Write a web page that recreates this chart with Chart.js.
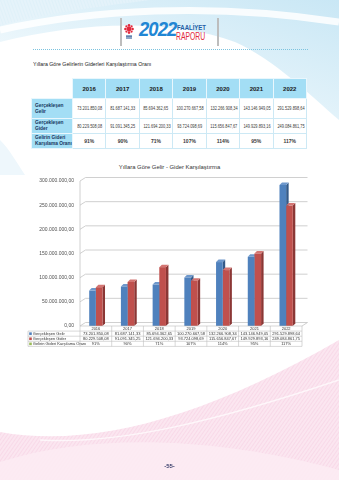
<!DOCTYPE html>
<html><head><meta charset="utf-8">
<script src="https://cdn.jsdelivr.net/npm/chart.js@4"></script>
<style>
html,body{margin:0;padding:0;width:339px;height:480px;overflow:hidden;background:#fff;font-family:'Liberation Sans',Arial,sans-serif;}
#page{position:relative;width:339px;height:480px;overflow:hidden;}
.abs{position:absolute;}
#tbl{position:absolute;left:31px;top:78px;width:276px;border-collapse:collapse;table-layout:fixed;}
#tbl th,#tbl td{padding:0;margin:0;overflow:hidden;white-space:nowrap;}
#tbl th{background:#a3def5;color:#1a1a1a;font-weight:bold;font-size:6px;border:1px solid #e9f7fd;height:19px;text-align:center;}
#tbl th.empty{background:transparent;border:none;}
#tbl td{border:1px solid #cde9f5;text-align:center;font-size:4.9px;color:#3a3a3a;background:#fff;}
#tbl td span{display:inline-block;transform:scaleX(0.8);transform-origin:50% 50%;}
#tbl td.lab{background:#a3def5;color:#17365d;font-weight:bold;font-size:4.8px;text-align:left;padding-left:3px;border:1px solid #e9f7fd;line-height:6px;white-space:normal;}
#tbl tr.r1 td{height:19px;}
#tbl tr.r2 td{height:14px;}
#tbl tr.r3 td{height:14px;}
</style></head><body>
<div id="page">
<svg class="abs" style="left:0;top:0" width="339" height="480">
  <defs>
    <linearGradient id="gb" x1="1" y1="0" x2="0" y2="1">
      <stop offset="0" stop-color="#c9e7f5"/>
      <stop offset="0.6" stop-color="#e8f5fb"/>
      <stop offset="1" stop-color="#ffffff"/>
    </linearGradient>
    <pattern id="ps" width="3" height="3" patternUnits="userSpaceOnUse" patternTransform="rotate(35)">
      <rect width="3" height="3" fill="#fbe6f0"/>
      <line x1="0" y1="0" x2="0" y2="3" stroke="#f4c6dc" stroke-width="0.8"/>
    </pattern>
    <pattern id="bs" width="3" height="3" patternUnits="userSpaceOnUse" patternTransform="rotate(-20)">
      <rect width="3" height="3" fill="#e6f3fa"/>
      <line x1="0" y1="0" x2="0" y2="3" stroke="#d3ebf6" stroke-width="0.8"/>
    </pattern>
  </defs>
  <path d="M0,0 H339 V120 C310,95 275,60 235,42 C170,18 80,22 0,42 Z" fill="url(#gb)"/>
  <path d="M0,0 H150 C90,8 40,14 0,26 Z" fill="url(#bs)" opacity="0.8"/>
  <path d="M0,30 C90,10 210,2 339,22" stroke="#ffffff" stroke-width="7" fill="none" opacity="0.85"/>
  <path d="M0,140 C10,150 15,160 25,175 L0,175 Z" fill="#eef7fc"/>
  <path d="M0,432 C90,448 200,420 339,340 V480 H0 Z" fill="url(#ps)"/>
  <path d="M0,462 C100,430 230,440 339,470 V480 H0 Z" fill="#fcebf3" opacity="0.9"/>
  <path d="M40,440 C120,445 220,420 339,380" stroke="#ffffff" stroke-width="1.5" fill="none" opacity="0.7"/>
</svg>

<!-- header logo -->
<div class="abs" style="left:120px;top:18px;width:1.5px;height:28px;background:#bdbdbd;"></div>
<div class="abs" style="left:217px;top:18px;width:1.5px;height:28px;background:#bdbdbd;"></div>
<svg class="abs" style="left:123px;top:23px" width="12" height="18">
  <g fill="#e2283c">
    <circle cx="6" cy="6" r="2.4"/>
    <circle cx="6" cy="2.4" r="1.3"/><circle cx="6" cy="9.6" r="1.3"/>
    <circle cx="2.4" cy="6" r="1.3"/><circle cx="9.6" cy="6" r="1.3"/>
    <circle cx="3.4" cy="3.4" r="1.1"/><circle cx="8.6" cy="3.4" r="1.1"/>
    <circle cx="3.4" cy="8.6" r="1.1"/><circle cx="8.6" cy="8.6" r="1.1"/>
  </g>
  <rect x="3" y="12.5" width="6" height="1.2" fill="#1f4e8c"/>
  <rect x="3" y="14.5" width="6" height="1" fill="#1f4e8c"/>
</svg>
<div class="abs" style="left:139px;top:18px;font-size:20px;font-weight:bold;font-style:italic;color:#2186d4;letter-spacing:-1px;line-height:22px;transform-origin:0 0;transform:scaleX(0.92);">2022</div>
<div class="abs" style="left:177px;top:24px;font-size:7.5px;font-weight:bold;color:#1f5fa6;line-height:7px;transform-origin:0 0;transform:scaleX(0.8);white-space:nowrap;">FAALİYET</div>
<div class="abs" style="left:176px;top:31px;font-size:11px;color:#e2283c;line-height:10px;transform-origin:0 0;transform:scaleX(0.62);white-space:nowrap;">RAPORU</div>

<div class="abs" style="left:33px;top:49px;width:275px;border-top:1px dotted #7cc3df;"></div>
<div class="abs" style="left:33px;top:61px;font-size:5.4px;color:#222;transform-origin:0 0;transform:scaleX(0.97);white-space:nowrap;">Yıllara Göre Gelirlerin Giderleri Karşılaştırma Oranı</div>

<table id="tbl"><colgroup><col style="width:41px"><col><col><col><col><col><col><col></colgroup><tbody id="tb"></tbody></table>

<div class="abs" style="left:0;top:164px;width:339px;text-align:center;font-size:5.9px;color:#333;">Yıllara Göre Gelir - Gider Karşılaştırma</div>

<canvas id="c" width="339" height="480" class="abs" style="left:0;top:0;"></canvas>

<div class="abs" style="left:0;top:463px;width:339px;text-align:center;font-size:6px;font-weight:bold;color:#3a3f6b;">-55-</div>
</div>

<script>
// ---- data ----
const years = ['2016','2017','2018','2019','2020','2021','2022'];
const gelir = [73201850.08, 81687141.33, 85694362.65, 100270667.58, 132266908.34, 143146949.05, 291529898.64];
const gider = [80229508.08, 91091345.25, 121694200.33, 93724098.69, 115656847.67, 149929893.16, 249084861.75];
const oran = [91, 90, 71, 107, 114, 95, 117];
const rowLabels = ['Gerçekleşen Gelir', 'Gerçekleşen Gider', 'Gelirin Gideri Karşılama Oranı'];
const rowLabelsTop = ['Gerçekleşen<br>Gelir', 'Gerçekleşen<br>Gider', 'Gelirin Gideri<br>Karşılama Oranı'];

function fmt(v){
  const s = Number(v).toFixed(2);
  let [i,d] = s.split('.');
  i = i.replace(/\B(?=(\d{3})+(?!\d))/g,'.');
  return i + ',' + d;
}

// ---- top table ----
(function(){
  let h = '<tr><th class="empty"></th>' + years.map(y=>'<th>'+y+'</th>').join('') + '</tr>';
  h += '<tr class="r1"><td class="lab">'+rowLabelsTop[0]+'</td>' + gelir.map(v=>'<td><span>'+fmt(v)+'</span></td>').join('') + '</tr>';
  h += '<tr class="r2"><td class="lab">'+rowLabelsTop[1]+'</td>' + gider.map(v=>'<td><span>'+fmt(v)+'</span></td>').join('') + '</tr>';
  h += '<tr class="r3"><td class="lab">'+rowLabelsTop[2]+'</td>' + oran.map(v=>'<td style="font-weight:bold;font-size:5px">'+v+'%</td>').join('') + '</tr>';
  document.getElementById('tb').innerHTML = h;
})();

// ---- chart ----
const WDX = 5.5, WDY = 3.5;   // wall depth
const BDX = 2.5, BDY = 2.5;   // bar depth
const sideColors = ['#345a88', '#8b3735'];
const topColors = ['#6e98cc', '#d47572'];
const swatch = ['#4f81bd', '#c0504d', '#9bbb59'];

const depthPlugin = {
  id: 'depth3d',
  beforeDatasetsDraw(chart){
    const ctx = chart.ctx, ca = chart.chartArea, y = chart.scales.y;
    ctx.save();
    ctx.strokeStyle = '#c4c4c4';
    ctx.lineWidth = 0.8;
    ctx.beginPath();
    ctx.moveTo(ca.left, ca.top); ctx.lineTo(ca.left, ca.bottom);
    ctx.stroke();
    y.ticks.forEach(t => {
      const py = y.getPixelForValue(t.value);
      ctx.beginPath();
      ctx.moveTo(ca.left, py);
      ctx.lineTo(ca.left + WDX, py - WDY);
      ctx.lineTo(ca.right + WDX, py - WDY);
      ctx.stroke();
    });
    ctx.beginPath();
    ctx.moveTo(ca.right, ca.bottom); ctx.lineTo(ca.right + WDX, ca.bottom - WDY);
    ctx.stroke();
    chart.data.datasets.forEach((ds, i) => {
      const meta = chart.getDatasetMeta(i);
      meta.data.forEach(bar => {
        const p = bar.getProps(['x','y','base','width'], true);
        const l = p.x - p.width/2, r = p.x + p.width/2;
        ctx.fillStyle = sideColors[i];
        ctx.beginPath();
        ctx.moveTo(r, p.y); ctx.lineTo(r + BDX, p.y - BDY);
        ctx.lineTo(r + BDX, p.base - BDY); ctx.lineTo(r, p.base);
        ctx.closePath(); ctx.fill();
        ctx.fillStyle = topColors[i];
        ctx.beginPath();
        ctx.moveTo(l, p.y); ctx.lineTo(r, p.y);
        ctx.lineTo(r + BDX, p.y - BDY); ctx.lineTo(l + BDX, p.y - BDY);
        ctx.closePath(); ctx.fill();
      });
    });
    ctx.restore();
  }
};

const tablePlugin = {
  id: 'dataTable',
  afterDraw(chart){
    const ctx = chart.ctx, ca = chart.chartArea, x = chart.scales.x;
    const n = years.length, colW = (ca.right - ca.left) / n;
    const top = ca.bottom, rowH = 5.1, left = 28;
    ctx.save();
    ctx.strokeStyle = '#bdbdbd';
    ctx.lineWidth = 0.6;
    const bottom = top + rowH * 4;
    ctx.beginPath();
    ctx.moveTo(ca.left, top); ctx.lineTo(ca.right, top);
    for (let k = 1; k <= 4; k++) {
      ctx.moveTo(left, top + rowH*k); ctx.lineTo(ca.right, top + rowH*k);
    }
    ctx.moveTo(left, top + rowH); ctx.lineTo(left, bottom);
    for (let i = 0; i <= n; i++) {
      const px = ca.left + i * colW;
      ctx.moveTo(px, top); ctx.lineTo(px, bottom);
    }
    ctx.stroke();
    ctx.fillStyle = '#333';
    ctx.textAlign = 'center';
    ctx.textBaseline = 'middle';
    ctx.font = "4px 'Liberation Sans', Arial, sans-serif";
    years.forEach((yr, i) => {
      const cx = x.getPixelForValue(i);
      ctx.fillText(yr, cx, top + rowH*0.5 + 0.3);
      ctx.fillText(fmt(gelir[i]), cx, top + rowH*1.5 + 0.3);
      ctx.fillText(fmt(gider[i]), cx, top + rowH*2.5 + 0.3);
      ctx.fillText(oran[i] + '%', cx, top + rowH*3.5 + 0.3);
    });
    ctx.textAlign = 'left';
    rowLabels.forEach((lb, k) => {
      const cy = top + rowH*(k+1.5);
      ctx.fillStyle = swatch[k];
      ctx.fillRect(left + 1.2, cy - 1.3, 2.6, 2.6);
      ctx.fillStyle = '#333';
      ctx.fillText(lb, left + 4.8, cy + 0.3);
    });
    ctx.restore();
  }
};

Chart.defaults.font.family = "'Liberation Sans', Arial, sans-serif";
new Chart(document.getElementById('c'), {
  type: 'bar',
  data: {
    labels: years,
    datasets: [
      { label: rowLabels[0], data: gelir, backgroundColor: '#4f81bd' },
      { label: rowLabels[1], data: gider, backgroundColor: '#c0504d' }
    ]
  },
  options: {
    responsive: false,
    animation: false,
    devicePixelRatio: 1,
    layout: { padding: { left: 0, right: 37, top: 181, bottom: 154 } },
    plugins: { legend: { display: false }, tooltip: { enabled: false }, title: { display: false } },
    datasets: { bar: { categoryPercentage: 0.42, barPercentage: 1 } },
    scales: {
      x: { display: false },
      y: {
        min: 0, max: 300000000,
        afterFit(s){ s.width = 80; },
        grid: { display: false, drawTicks: false },
        border: { display: false },
        ticks: { stepSize: 50000000, padding: 6, color: '#505050', font: { size: 5 }, callback: v => fmt(v) }
      }
    }
  },
  plugins: [depthPlugin, tablePlugin]
});
</script>
</body></html>
